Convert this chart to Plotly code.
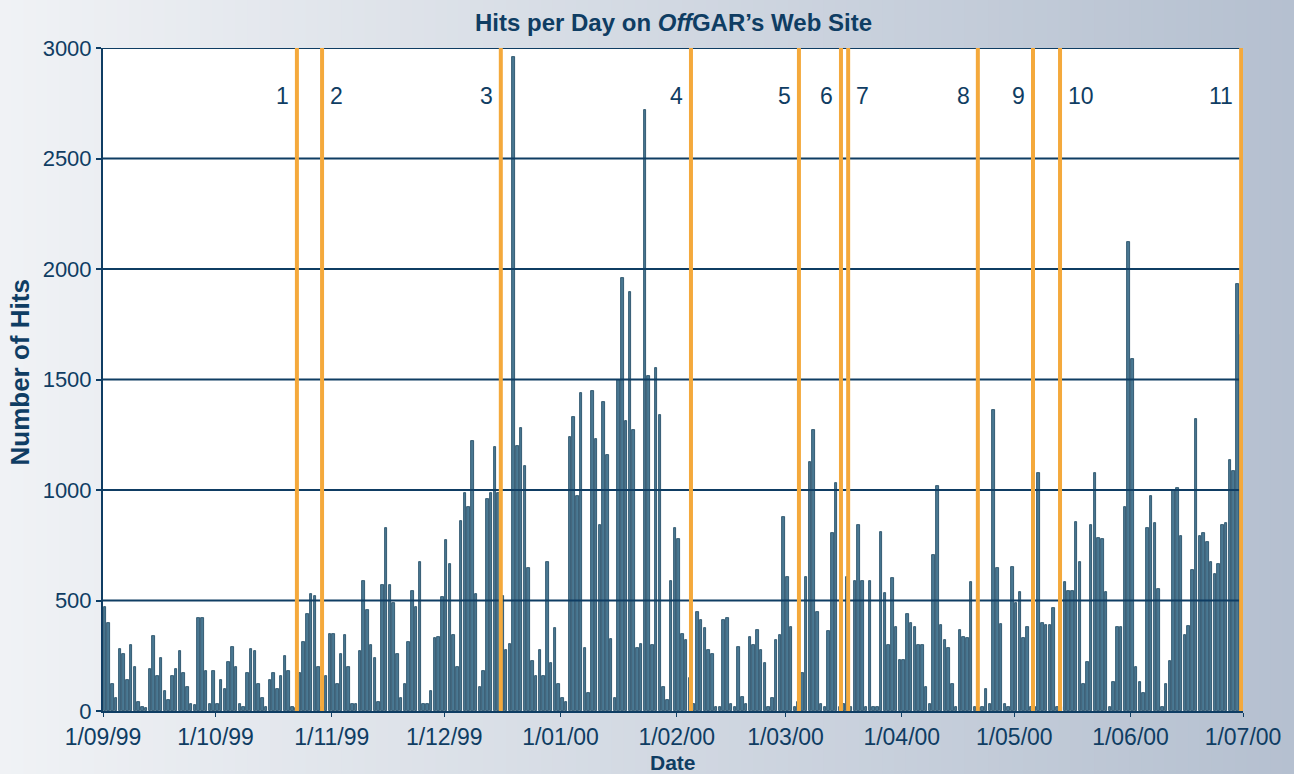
import plotly.graph_objects as go
import pandas as pd

# ---------------- data (daily hits) ----------------
sep_99 = [470, 400, 120, 60, 280, 260, 140, 300, 200, 40, 20, 15, 190, 340, 160,
          240, 90, 50, 160, 190, 270, 170, 110, 30, 25, 420, 420, 180, 30, 180]
oct_99 = [30, 140, 100, 220, 290, 200, 30, 20, 170, 280, 270, 120, 60, 20, 140,
          170, 100, 160, 250, 180, 20, 15, 170, 310, 440, 530, 520, 200, 20, 160, 350]
nov_99 = [350, 120, 260, 345, 200, 30, 30, 270, 590, 455, 300, 240, 40, 570, 830,
          570, 490, 260, 60, 120, 310, 545, 470, 675, 30, 30, 90, 330, 335, 515]
dec_99 = [775, 665, 345, 200, 860, 985, 925, 1220, 530, 110, 180, 960, 985, 1195, 985,
          520, 275, 305, 2960, 1200, 1280, 1110, 645, 225, 160, 275, 160, 675, 215, 375, 120]
jan_00 = [60, 40, 1240, 1330, 975, 1440, 285, 80, 1450, 1230, 840, 1400, 1160, 325, 60,
          1500, 1960, 1310, 1895, 1270, 285, 305, 2720, 1515, 300, 1550, 1340, 110, 50, 590, 830]
feb_00 = [780, 350, 320, 150, 30, 450, 410, 375, 275, 260, 20, 20, 410, 420, 30,
          20, 290, 65, 30, 335, 300, 365, 275, 215, 20, 60, 320, 345, 880]
mar_00 = [605, 380, 20, 40, 170, 605, 1125, 1270, 450, 30, 20, 360, 805, 1030, 20,
          30, 605, 20, 590, 840, 590, 20, 590, 20, 20, 810, 535, 300, 600, 380, 230]
apr_00 = [230, 440, 400, 380, 300, 300, 110, 30, 705, 1020, 390, 320, 285, 120, 20,
          365, 335, 330, 585, 20, 15, 20, 100, 30, 1360, 645, 395, 30, 20, 650]
may_00 = [490, 540, 330, 380, 20, 20, 1075, 400, 390, 390, 465, 20, 20, 585, 545,
          545, 855, 675, 120, 220, 840, 1075, 785, 780, 540, 20, 130, 380, 380, 925, 2120]
jun_00 = [1595, 200, 130, 80, 830, 975, 850, 550, 20, 120, 225, 1000, 1010, 790, 345,
          385, 640, 1320, 790, 805, 765, 675, 620, 665, 840, 850, 1135, 1085, 1930, 1700]

hits = sep_99 + oct_99 + nov_99 + dec_99 + jan_00 + feb_00 + mar_00 + apr_00 + may_00 + jun_00
start_date = "1999-09-01"

tick_dates = ["1999-09-01", "1999-10-01", "1999-11-01", "1999-12-01", "2000-01-01",
              "2000-02-01", "2000-03-01", "2000-04-01", "2000-05-01", "2000-06-01", "2000-07-01"]
tick_labels = ["1/09/99", "1/10/99", "1/11/99", "1/12/99", "1/01/00", "1/02/00",
               "1/03/00", "1/04/00", "1/05/00", "1/06/00", "1/07/00"]
y_ticks = [0, 500, 1000, 1500, 2000, 2500, 3000]

event_labels = ["1", "2", "3", "4", "5", "6", "7", "8", "9", "10", "11"]
event_times = ["1999-10-22 17:00", "1999-10-29 10:00", "1999-12-16 02:00", "2000-02-04 19:00",
               "2000-03-04 14:00", "2000-03-15 19:00", "2000-03-17 17:00", "2000-04-21 07:00",
               "2000-05-06 00:00", "2000-05-13 05:00", "2000-06-30 12:00"]
event_sides = ["left", "right", "left", "left", "left", "left", "right", "left", "left", "right", "left"]

title_text = "<b>Hits per Day on <i>Off</i>GAR\u2019s Web Site</b>"
x_title = "<b>Date</b>"
y_title = "<b>Number of Hits</b>"

# ---------------- styling ----------------
NAVY = "#0f3d63"
ORANGE = "#f4a93c"
FONT = "Liberation Sans, Arial, sans-serif"
W, H = 1294, 774
ML, MR, MT, MB = 103, 51, 48, 63
PW, PH = W - ML - MR, H - MT - MB

dates = pd.date_range(start_date, periods=len(hits), freq="D") + pd.Timedelta(hours=12)

fig = go.Figure()
fig.add_trace(go.Bar(
    x=dates, y=hits,
    width=86400000 * 0.68,
    marker=dict(color="#4a7892", line=dict(color="#1b4560", width=0.8)),
    hoverinfo="x+y",
))

shapes = []
# gradient background (paper)
left_rgb = (240, 242, 245)
right_rgb = (181, 192, 208)
N = 110
x_lo, x_hi = -ML / PW, (W - ML) / PW
y_lo, y_hi = -MB / PH, (H - MB) / PH
for i in range(N):
    t = i / (N - 1)
    c = tuple(round(left_rgb[k] + (right_rgb[k] - left_rgb[k]) * t) for k in range(3))
    x0 = x_lo + (x_hi - x_lo) * i / N
    x1 = x_lo + (x_hi - x_lo) * (i + 1) / N + 0.002
    shapes.append(dict(type="rect", xref="paper", yref="paper", x0=x0, x1=x1, y0=y_lo, y1=y_hi,
                       fillcolor="rgb(%d,%d,%d)" % c, line=dict(width=0), layer="below"))
# white plot area
shapes.append(dict(type="rect", xref="paper", yref="paper", x0=0, x1=1, y0=0, y1=1,
                   fillcolor="white", line=dict(width=0), layer="below"))
# gridlines drawn above the bars
for v in y_ticks[1:]:
    shapes.append(dict(type="line", xref="paper", yref="y", x0=0, x1=1, y0=v, y1=v,
                       line=dict(color=NAVY, width=2), layer="above"))
# event lines
for t in event_times:
    shapes.append(dict(type="line", xref="x", yref="paper", x0=t, x1=t, y0=0, y1=1,
                       line=dict(color=ORANGE, width=4), layer="above"))

annotations = []
for lab, t, side in zip(event_labels, event_times, event_sides):
    annotations.append(dict(x=t, xref="x", y=(711 - 96) / PH,
                            yref="paper", text=lab, showarrow=False,
                            xanchor="right" if side == "left" else "left",
                            xshift=-6 if side == "left" else 6, yanchor="middle",
                            font=dict(family=FONT, size=23, color=NAVY)))
annotations.append(dict(x=0.5, xref="paper", y=0, yref="paper", text=x_title, showarrow=False,
                        yanchor="middle", yshift=-51, font=dict(family=FONT, size=21, color=NAVY)))
annotations.append(dict(x=0, xref="paper", y=0.5, yref="paper", text=y_title, showarrow=False,
                        textangle=-90, xanchor="center", yanchor="middle", xshift=-84, yshift=7,
                        font=dict(family=FONT, size=26, color=NAVY)))
annotations.append(dict(x=0.5, xref="paper", y=1, yref="paper", text=title_text, showarrow=False,
                        yanchor="middle", yshift=26, font=dict(family=FONT, size=24, color=NAVY)))

fig.update_layout(
    width=W, height=H,
    margin=dict(l=ML, r=MR, t=MT, b=MB, pad=0),
    paper_bgcolor="rgb(212,218,228)",
    plot_bgcolor="rgba(0,0,0,0)",
    showlegend=False,
    bargap=0,
    shapes=shapes,
    annotations=annotations,
    font=dict(family=FONT, color=NAVY),
    xaxis=dict(
        type="date", range=[start_date, tick_dates[-1]],
        tickmode="array", tickvals=tick_dates, ticktext=tick_labels,
        showgrid=False, zeroline=False,
        showline=True, linecolor=NAVY, linewidth=2,
        ticks="outside", ticklen=4, tickwidth=1, tickcolor=NAVY,
        tickfont=dict(family=FONT, size=23, color=NAVY),
    ),
    yaxis=dict(
        range=[0, 3000], tickmode="array", tickvals=y_ticks,
        showgrid=False, zeroline=False,
        showline=True, linecolor=NAVY, linewidth=2,
        ticks="outside", ticklen=5, tickwidth=2, tickcolor=NAVY,
        tickfont=dict(family=FONT, size=22, color=NAVY),
    ),
)

fig.write_html("out.html", config={"displayModeBar": False},
               post_script="document.body.style.margin='0';document.body.style.overflow='hidden';")
